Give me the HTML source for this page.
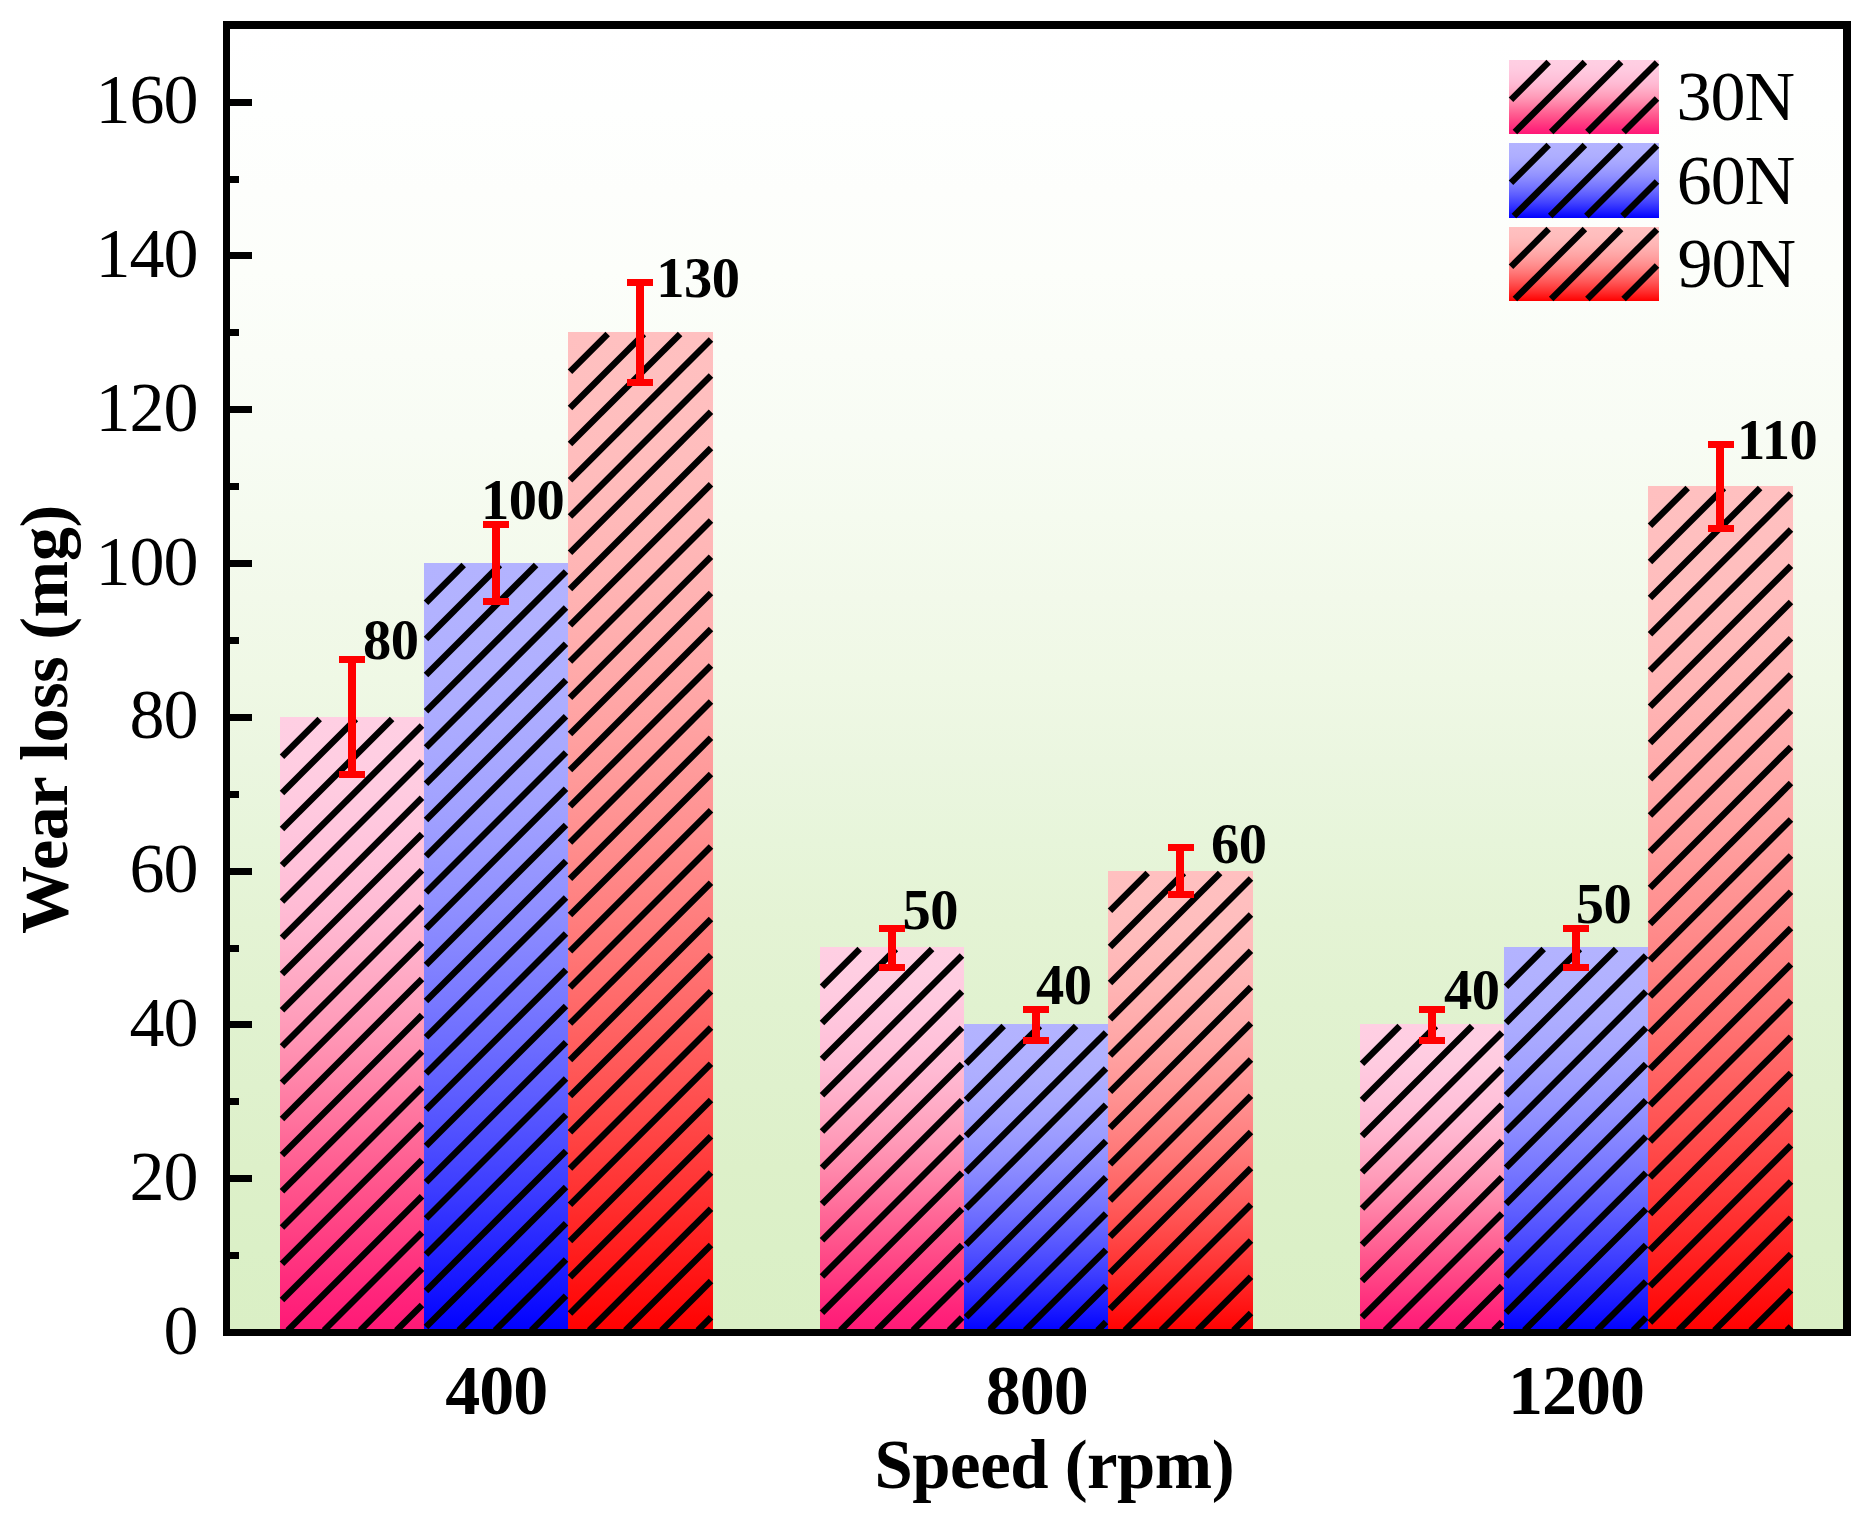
<!DOCTYPE html>
<html lang="en"><head><meta charset="utf-8"><title>Wear loss vs speed</title>
<style>html,body{margin:0;padding:0;background:#fff;}body{width:1871px;height:1519px;overflow:hidden;}svg{display:block;}text{font-family:"Liberation Serif","Times New Roman",serif;fill:#000;}.b{font-weight:bold;}</style></head><body>
<svg width="1871" height="1519" viewBox="0 0 1871 1519">
<defs>
<linearGradient id="bg" x1="0" y1="0" x2="0" y2="1">
<stop offset="0.0000" stop-color="rgb(255,255,255)"/>
<stop offset="0.0625" stop-color="rgb(254,255,254)"/>
<stop offset="0.1250" stop-color="rgb(253,254,252)"/>
<stop offset="0.1875" stop-color="rgb(252,254,250)"/>
<stop offset="0.2500" stop-color="rgb(250,253,247)"/>
<stop offset="0.3125" stop-color="rgb(248,252,244)"/>
<stop offset="0.3750" stop-color="rgb(245,251,239)"/>
<stop offset="0.4375" stop-color="rgb(242,249,234)"/>
<stop offset="0.5000" stop-color="rgb(239,248,229)"/>
<stop offset="0.5625" stop-color="rgb(235,246,224)"/>
<stop offset="0.6250" stop-color="rgb(231,245,218)"/>
<stop offset="0.6875" stop-color="rgb(228,243,212)"/>
<stop offset="0.7500" stop-color="rgb(225,242,208)"/>
<stop offset="0.8125" stop-color="rgb(223,241,205)"/>
<stop offset="0.8750" stop-color="rgb(221,240,201)"/>
<stop offset="0.9375" stop-color="rgb(219,240,199)"/>
<stop offset="1.0000" stop-color="rgb(218,239,197)"/>
</linearGradient>
<linearGradient id="g0" x1="0" y1="0" x2="0" y2="1">
<stop offset="0.0000" stop-color="rgb(255,207,227)"/>
<stop offset="0.0625" stop-color="rgb(255,206,226)"/>
<stop offset="0.1250" stop-color="rgb(255,203,224)"/>
<stop offset="0.1875" stop-color="rgb(255,198,221)"/>
<stop offset="0.2500" stop-color="rgb(255,193,217)"/>
<stop offset="0.3125" stop-color="rgb(255,187,212)"/>
<stop offset="0.3750" stop-color="rgb(255,178,204)"/>
<stop offset="0.4375" stop-color="rgb(255,167,194)"/>
<stop offset="0.5000" stop-color="rgb(255,155,185)"/>
<stop offset="0.5625" stop-color="rgb(255,140,174)"/>
<stop offset="0.6250" stop-color="rgb(255,123,163)"/>
<stop offset="0.6875" stop-color="rgb(255,105,152)"/>
<stop offset="0.7500" stop-color="rgb(255,88,142)"/>
<stop offset="0.8125" stop-color="rgb(255,71,134)"/>
<stop offset="0.8750" stop-color="rgb(255,54,128)"/>
<stop offset="0.9375" stop-color="rgb(255,37,123)"/>
<stop offset="1.0000" stop-color="rgb(255,24,118)"/>
</linearGradient>
<linearGradient id="g1" x1="0" y1="0" x2="0" y2="1">
<stop offset="0.0000" stop-color="rgb(179,179,255)"/>
<stop offset="0.0625" stop-color="rgb(178,178,255)"/>
<stop offset="0.1250" stop-color="rgb(176,176,255)"/>
<stop offset="0.1875" stop-color="rgb(173,173,255)"/>
<stop offset="0.2500" stop-color="rgb(168,168,255)"/>
<stop offset="0.3125" stop-color="rgb(162,162,255)"/>
<stop offset="0.3750" stop-color="rgb(154,154,255)"/>
<stop offset="0.4375" stop-color="rgb(145,145,255)"/>
<stop offset="0.5000" stop-color="rgb(134,134,255)"/>
<stop offset="0.5625" stop-color="rgb(122,122,255)"/>
<stop offset="0.6250" stop-color="rgb(109,109,255)"/>
<stop offset="0.6875" stop-color="rgb(94,94,255)"/>
<stop offset="0.7500" stop-color="rgb(78,78,255)"/>
<stop offset="0.8125" stop-color="rgb(61,61,255)"/>
<stop offset="0.8750" stop-color="rgb(42,42,255)"/>
<stop offset="0.9375" stop-color="rgb(22,22,255)"/>
<stop offset="1.0000" stop-color="rgb(0,0,255)"/>
</linearGradient>
<linearGradient id="g2" x1="0" y1="0" x2="0" y2="1">
<stop offset="0.0000" stop-color="rgb(255,192,192)"/>
<stop offset="0.0625" stop-color="rgb(255,191,191)"/>
<stop offset="0.1250" stop-color="rgb(255,189,189)"/>
<stop offset="0.1875" stop-color="rgb(255,185,185)"/>
<stop offset="0.2500" stop-color="rgb(255,180,180)"/>
<stop offset="0.3125" stop-color="rgb(255,173,173)"/>
<stop offset="0.3750" stop-color="rgb(255,165,165)"/>
<stop offset="0.4375" stop-color="rgb(255,155,155)"/>
<stop offset="0.5000" stop-color="rgb(255,144,144)"/>
<stop offset="0.5625" stop-color="rgb(255,131,131)"/>
<stop offset="0.6250" stop-color="rgb(255,117,117)"/>
<stop offset="0.6875" stop-color="rgb(255,101,101)"/>
<stop offset="0.7500" stop-color="rgb(255,84,84)"/>
<stop offset="0.8125" stop-color="rgb(255,65,65)"/>
<stop offset="0.8750" stop-color="rgb(255,45,45)"/>
<stop offset="0.9375" stop-color="rgb(255,23,23)"/>
<stop offset="1.0000" stop-color="rgb(255,0,0)"/>
</linearGradient>
</defs>
<rect x="0" y="0" width="1871" height="1519" fill="#fff"/>
<rect x="229" y="28" width="1615" height="1302" fill="url(#bg)"/>
<rect x="280.0" y="717.0" width="144.0" height="615.5" fill="url(#g0)"/>
<rect x="424.0" y="563.0" width="144.0" height="769.5" fill="url(#g1)"/>
<rect x="568.0" y="332.0" width="145.0" height="1000.5" fill="url(#g2)"/>
<rect x="820.0" y="947.0" width="144.0" height="385.5" fill="url(#g0)"/>
<rect x="964.0" y="1024.0" width="144.0" height="308.5" fill="url(#g1)"/>
<rect x="1108.0" y="871.0" width="145.0" height="461.5" fill="url(#g2)"/>
<rect x="1360.0" y="1024.0" width="144.0" height="308.5" fill="url(#g0)"/>
<rect x="1504.0" y="947.0" width="144.0" height="385.5" fill="url(#g1)"/>
<rect x="1648.0" y="486.0" width="145.0" height="846.5" fill="url(#g2)"/>
<rect x="1509" y="60" width="150" height="74" fill="url(#g0)"/>
<rect x="1509" y="143" width="150" height="75" fill="url(#g1)"/>
<rect x="1509" y="227" width="150" height="74" fill="url(#g2)"/>
<g stroke="#000" stroke-width="6.4" stroke-linecap="butt">
<line x1="282.0" y1="756.7" x2="319.7" y2="719.0"/>
<line x1="282.0" y1="792.9" x2="355.9" y2="719.0"/>
<line x1="282.0" y1="829.1" x2="392.1" y2="719.0"/>
<line x1="282.0" y1="865.3" x2="422.0" y2="725.4"/>
<line x1="282.0" y1="901.6" x2="422.0" y2="761.6"/>
<line x1="282.0" y1="937.8" x2="422.0" y2="797.8"/>
<line x1="282.0" y1="974.0" x2="422.0" y2="834.0"/>
<line x1="282.0" y1="1010.2" x2="422.0" y2="870.3"/>
<line x1="282.0" y1="1046.4" x2="422.0" y2="906.5"/>
<line x1="282.0" y1="1082.7" x2="422.0" y2="942.7"/>
<line x1="282.0" y1="1118.9" x2="422.0" y2="978.9"/>
<line x1="282.0" y1="1155.1" x2="422.0" y2="1015.1"/>
<line x1="282.0" y1="1191.3" x2="422.0" y2="1051.4"/>
<line x1="282.0" y1="1227.5" x2="422.0" y2="1087.6"/>
<line x1="282.0" y1="1263.8" x2="422.0" y2="1123.8"/>
<line x1="282.0" y1="1300.0" x2="422.0" y2="1160.0"/>
<line x1="287.7" y1="1330.5" x2="422.0" y2="1196.2"/>
<line x1="324.0" y1="1330.5" x2="422.0" y2="1232.5"/>
<line x1="360.2" y1="1330.5" x2="422.0" y2="1268.7"/>
<line x1="396.4" y1="1330.5" x2="422.0" y2="1304.9"/>
<line x1="426.0" y1="602.7" x2="463.7" y2="565.0"/>
<line x1="426.0" y1="638.9" x2="499.9" y2="565.0"/>
<line x1="426.0" y1="675.1" x2="536.1" y2="565.0"/>
<line x1="426.0" y1="711.3" x2="566.0" y2="571.4"/>
<line x1="426.0" y1="747.6" x2="566.0" y2="607.6"/>
<line x1="426.0" y1="783.8" x2="566.0" y2="643.8"/>
<line x1="426.0" y1="820.0" x2="566.0" y2="680.0"/>
<line x1="426.0" y1="856.2" x2="566.0" y2="716.3"/>
<line x1="426.0" y1="892.4" x2="566.0" y2="752.5"/>
<line x1="426.0" y1="928.7" x2="566.0" y2="788.7"/>
<line x1="426.0" y1="964.9" x2="566.0" y2="824.9"/>
<line x1="426.0" y1="1001.1" x2="566.0" y2="861.1"/>
<line x1="426.0" y1="1037.3" x2="566.0" y2="897.4"/>
<line x1="426.0" y1="1073.5" x2="566.0" y2="933.6"/>
<line x1="426.0" y1="1109.8" x2="566.0" y2="969.8"/>
<line x1="426.0" y1="1146.0" x2="566.0" y2="1006.0"/>
<line x1="426.0" y1="1182.2" x2="566.0" y2="1042.2"/>
<line x1="426.0" y1="1218.4" x2="566.0" y2="1078.5"/>
<line x1="426.0" y1="1254.6" x2="566.0" y2="1114.7"/>
<line x1="426.0" y1="1290.9" x2="566.0" y2="1150.9"/>
<line x1="426.0" y1="1327.1" x2="566.0" y2="1187.1"/>
<line x1="458.8" y1="1330.5" x2="566.0" y2="1223.3"/>
<line x1="495.1" y1="1330.5" x2="566.0" y2="1259.6"/>
<line x1="531.3" y1="1330.5" x2="566.0" y2="1295.8"/>
<line x1="570.0" y1="371.7" x2="607.7" y2="334.0"/>
<line x1="570.0" y1="407.9" x2="643.9" y2="334.0"/>
<line x1="570.0" y1="444.1" x2="680.1" y2="334.0"/>
<line x1="570.0" y1="480.3" x2="711.0" y2="339.4"/>
<line x1="570.0" y1="516.6" x2="711.0" y2="375.6"/>
<line x1="570.0" y1="552.8" x2="711.0" y2="411.8"/>
<line x1="570.0" y1="589.0" x2="711.0" y2="448.0"/>
<line x1="570.0" y1="625.2" x2="711.0" y2="484.3"/>
<line x1="570.0" y1="661.4" x2="711.0" y2="520.5"/>
<line x1="570.0" y1="697.7" x2="711.0" y2="556.7"/>
<line x1="570.0" y1="733.9" x2="711.0" y2="592.9"/>
<line x1="570.0" y1="770.1" x2="711.0" y2="629.1"/>
<line x1="570.0" y1="806.3" x2="711.0" y2="665.4"/>
<line x1="570.0" y1="842.5" x2="711.0" y2="701.6"/>
<line x1="570.0" y1="878.8" x2="711.0" y2="737.8"/>
<line x1="570.0" y1="915.0" x2="711.0" y2="774.0"/>
<line x1="570.0" y1="951.2" x2="711.0" y2="810.2"/>
<line x1="570.0" y1="987.4" x2="711.0" y2="846.5"/>
<line x1="570.0" y1="1023.6" x2="711.0" y2="882.7"/>
<line x1="570.0" y1="1059.9" x2="711.0" y2="918.9"/>
<line x1="570.0" y1="1096.1" x2="711.0" y2="955.1"/>
<line x1="570.0" y1="1132.3" x2="711.0" y2="991.3"/>
<line x1="570.0" y1="1168.5" x2="711.0" y2="1027.6"/>
<line x1="570.0" y1="1204.7" x2="711.0" y2="1063.8"/>
<line x1="570.0" y1="1241.0" x2="711.0" y2="1100.0"/>
<line x1="570.0" y1="1277.2" x2="711.0" y2="1136.2"/>
<line x1="570.0" y1="1313.4" x2="711.0" y2="1172.4"/>
<line x1="589.2" y1="1330.5" x2="711.0" y2="1208.7"/>
<line x1="625.4" y1="1330.5" x2="711.0" y2="1244.9"/>
<line x1="661.6" y1="1330.5" x2="711.0" y2="1281.1"/>
<line x1="697.8" y1="1330.5" x2="711.0" y2="1317.3"/>
<line x1="822.0" y1="986.7" x2="859.7" y2="949.0"/>
<line x1="822.0" y1="1022.9" x2="895.9" y2="949.0"/>
<line x1="822.0" y1="1059.1" x2="932.1" y2="949.0"/>
<line x1="822.0" y1="1095.3" x2="962.0" y2="955.4"/>
<line x1="822.0" y1="1131.6" x2="962.0" y2="991.6"/>
<line x1="822.0" y1="1167.8" x2="962.0" y2="1027.8"/>
<line x1="822.0" y1="1204.0" x2="962.0" y2="1064.0"/>
<line x1="822.0" y1="1240.2" x2="962.0" y2="1100.3"/>
<line x1="822.0" y1="1276.4" x2="962.0" y2="1136.5"/>
<line x1="822.0" y1="1312.7" x2="962.0" y2="1172.7"/>
<line x1="840.4" y1="1330.5" x2="962.0" y2="1208.9"/>
<line x1="876.6" y1="1330.5" x2="962.0" y2="1245.1"/>
<line x1="912.9" y1="1330.5" x2="962.0" y2="1281.4"/>
<line x1="949.1" y1="1330.5" x2="962.0" y2="1317.6"/>
<line x1="966.0" y1="1063.7" x2="1003.7" y2="1026.0"/>
<line x1="966.0" y1="1099.9" x2="1039.9" y2="1026.0"/>
<line x1="966.0" y1="1136.1" x2="1076.1" y2="1026.0"/>
<line x1="966.0" y1="1172.3" x2="1106.0" y2="1032.4"/>
<line x1="966.0" y1="1208.6" x2="1106.0" y2="1068.6"/>
<line x1="966.0" y1="1244.8" x2="1106.0" y2="1104.8"/>
<line x1="966.0" y1="1281.0" x2="1106.0" y2="1141.0"/>
<line x1="966.0" y1="1317.2" x2="1106.0" y2="1177.3"/>
<line x1="989.0" y1="1330.5" x2="1106.0" y2="1213.5"/>
<line x1="1025.2" y1="1330.5" x2="1106.0" y2="1249.7"/>
<line x1="1061.4" y1="1330.5" x2="1106.0" y2="1285.9"/>
<line x1="1097.6" y1="1330.5" x2="1106.0" y2="1322.1"/>
<line x1="1110.0" y1="910.7" x2="1147.7" y2="873.0"/>
<line x1="1110.0" y1="946.9" x2="1183.9" y2="873.0"/>
<line x1="1110.0" y1="983.1" x2="1220.1" y2="873.0"/>
<line x1="1110.0" y1="1019.3" x2="1251.0" y2="878.4"/>
<line x1="1110.0" y1="1055.6" x2="1251.0" y2="914.6"/>
<line x1="1110.0" y1="1091.8" x2="1251.0" y2="950.8"/>
<line x1="1110.0" y1="1128.0" x2="1251.0" y2="987.0"/>
<line x1="1110.0" y1="1164.2" x2="1251.0" y2="1023.3"/>
<line x1="1110.0" y1="1200.4" x2="1251.0" y2="1059.5"/>
<line x1="1110.0" y1="1236.7" x2="1251.0" y2="1095.7"/>
<line x1="1110.0" y1="1272.9" x2="1251.0" y2="1131.9"/>
<line x1="1110.0" y1="1309.1" x2="1251.0" y2="1168.1"/>
<line x1="1124.9" y1="1330.5" x2="1251.0" y2="1204.4"/>
<line x1="1161.1" y1="1330.5" x2="1251.0" y2="1240.6"/>
<line x1="1197.3" y1="1330.5" x2="1251.0" y2="1276.8"/>
<line x1="1233.5" y1="1330.5" x2="1251.0" y2="1313.0"/>
<line x1="1362.0" y1="1063.7" x2="1399.7" y2="1026.0"/>
<line x1="1362.0" y1="1099.9" x2="1435.9" y2="1026.0"/>
<line x1="1362.0" y1="1136.1" x2="1472.1" y2="1026.0"/>
<line x1="1362.0" y1="1172.3" x2="1502.0" y2="1032.4"/>
<line x1="1362.0" y1="1208.6" x2="1502.0" y2="1068.6"/>
<line x1="1362.0" y1="1244.8" x2="1502.0" y2="1104.8"/>
<line x1="1362.0" y1="1281.0" x2="1502.0" y2="1141.0"/>
<line x1="1362.0" y1="1317.2" x2="1502.0" y2="1177.3"/>
<line x1="1385.0" y1="1330.5" x2="1502.0" y2="1213.5"/>
<line x1="1421.2" y1="1330.5" x2="1502.0" y2="1249.7"/>
<line x1="1457.4" y1="1330.5" x2="1502.0" y2="1285.9"/>
<line x1="1493.6" y1="1330.5" x2="1502.0" y2="1322.1"/>
<line x1="1506.0" y1="986.7" x2="1543.7" y2="949.0"/>
<line x1="1506.0" y1="1022.9" x2="1579.9" y2="949.0"/>
<line x1="1506.0" y1="1059.1" x2="1616.1" y2="949.0"/>
<line x1="1506.0" y1="1095.3" x2="1646.0" y2="955.4"/>
<line x1="1506.0" y1="1131.6" x2="1646.0" y2="991.6"/>
<line x1="1506.0" y1="1167.8" x2="1646.0" y2="1027.8"/>
<line x1="1506.0" y1="1204.0" x2="1646.0" y2="1064.0"/>
<line x1="1506.0" y1="1240.2" x2="1646.0" y2="1100.3"/>
<line x1="1506.0" y1="1276.4" x2="1646.0" y2="1136.5"/>
<line x1="1506.0" y1="1312.7" x2="1646.0" y2="1172.7"/>
<line x1="1524.4" y1="1330.5" x2="1646.0" y2="1208.9"/>
<line x1="1560.6" y1="1330.5" x2="1646.0" y2="1245.1"/>
<line x1="1596.9" y1="1330.5" x2="1646.0" y2="1281.4"/>
<line x1="1633.1" y1="1330.5" x2="1646.0" y2="1317.6"/>
<line x1="1650.0" y1="525.7" x2="1687.7" y2="488.0"/>
<line x1="1650.0" y1="561.9" x2="1723.9" y2="488.0"/>
<line x1="1650.0" y1="598.1" x2="1760.1" y2="488.0"/>
<line x1="1650.0" y1="634.3" x2="1791.0" y2="493.4"/>
<line x1="1650.0" y1="670.6" x2="1791.0" y2="529.6"/>
<line x1="1650.0" y1="706.8" x2="1791.0" y2="565.8"/>
<line x1="1650.0" y1="743.0" x2="1791.0" y2="602.0"/>
<line x1="1650.0" y1="779.2" x2="1791.0" y2="638.3"/>
<line x1="1650.0" y1="815.4" x2="1791.0" y2="674.5"/>
<line x1="1650.0" y1="851.7" x2="1791.0" y2="710.7"/>
<line x1="1650.0" y1="887.9" x2="1791.0" y2="746.9"/>
<line x1="1650.0" y1="924.1" x2="1791.0" y2="783.1"/>
<line x1="1650.0" y1="960.3" x2="1791.0" y2="819.4"/>
<line x1="1650.0" y1="996.5" x2="1791.0" y2="855.6"/>
<line x1="1650.0" y1="1032.8" x2="1791.0" y2="891.8"/>
<line x1="1650.0" y1="1069.0" x2="1791.0" y2="928.0"/>
<line x1="1650.0" y1="1105.2" x2="1791.0" y2="964.2"/>
<line x1="1650.0" y1="1141.4" x2="1791.0" y2="1000.5"/>
<line x1="1650.0" y1="1177.6" x2="1791.0" y2="1036.7"/>
<line x1="1650.0" y1="1213.9" x2="1791.0" y2="1072.9"/>
<line x1="1650.0" y1="1250.1" x2="1791.0" y2="1109.1"/>
<line x1="1650.0" y1="1286.3" x2="1791.0" y2="1145.3"/>
<line x1="1650.0" y1="1322.5" x2="1791.0" y2="1181.6"/>
<line x1="1678.3" y1="1330.5" x2="1791.0" y2="1217.8"/>
<line x1="1714.5" y1="1330.5" x2="1791.0" y2="1254.0"/>
<line x1="1750.7" y1="1330.5" x2="1791.0" y2="1290.2"/>
<line x1="1786.9" y1="1330.5" x2="1791.0" y2="1326.4"/>
<line x1="1511.0" y1="99.7" x2="1548.7" y2="62.0"/>
<line x1="1514.9" y1="132.0" x2="1584.9" y2="62.0"/>
<line x1="1551.2" y1="132.0" x2="1621.1" y2="62.0"/>
<line x1="1587.4" y1="132.0" x2="1657.0" y2="62.4"/>
<line x1="1623.6" y1="132.0" x2="1657.0" y2="98.6"/>
<line x1="1511.0" y1="182.7" x2="1548.7" y2="145.0"/>
<line x1="1513.9" y1="216.0" x2="1584.9" y2="145.0"/>
<line x1="1550.2" y1="216.0" x2="1621.1" y2="145.0"/>
<line x1="1586.4" y1="216.0" x2="1657.0" y2="145.4"/>
<line x1="1622.6" y1="216.0" x2="1657.0" y2="181.6"/>
<line x1="1511.0" y1="266.7" x2="1548.7" y2="229.0"/>
<line x1="1514.9" y1="299.0" x2="1584.9" y2="229.0"/>
<line x1="1551.2" y1="299.0" x2="1621.1" y2="229.0"/>
<line x1="1587.4" y1="299.0" x2="1657.0" y2="229.4"/>
<line x1="1623.6" y1="299.0" x2="1657.0" y2="265.6"/>
</g>
<g fill="#FF0000">
<rect x="348" y="656" width="8" height="122"/>
<rect x="339" y="656" width="26" height="7"/>
<rect x="339" y="771" width="26" height="7"/>
<rect x="492" y="521" width="8" height="84"/>
<rect x="483" y="521" width="26" height="7"/>
<rect x="483" y="598" width="26" height="7"/>
<rect x="636" y="279" width="8" height="107"/>
<rect x="627" y="279" width="26" height="7"/>
<rect x="627" y="379" width="26" height="7"/>
<rect x="888" y="925" width="8" height="46"/>
<rect x="879" y="925" width="26" height="7"/>
<rect x="879" y="964" width="26" height="7"/>
<rect x="1032" y="1006" width="8" height="38"/>
<rect x="1023" y="1006" width="26" height="7"/>
<rect x="1023" y="1037" width="26" height="7"/>
<rect x="1176" y="844" width="8" height="54"/>
<rect x="1168" y="844" width="26" height="7"/>
<rect x="1168" y="891" width="26" height="7"/>
<rect x="1428" y="1006" width="8" height="38"/>
<rect x="1419" y="1006" width="26" height="7"/>
<rect x="1419" y="1037" width="26" height="7"/>
<rect x="1572" y="925" width="8" height="46"/>
<rect x="1563" y="925" width="26" height="7"/>
<rect x="1563" y="964" width="26" height="7"/>
<rect x="1716" y="441" width="8" height="91"/>
<rect x="1708" y="441" width="26" height="7"/>
<rect x="1708" y="525" width="26" height="7"/>
</g>
<g fill="#000">
<rect x="223" y="21" width="7" height="1315"/>
<rect x="1843" y="21" width="8" height="1315"/>
<rect x="223" y="21" width="1628" height="8"/>
<rect x="223" y="1329" width="1628" height="7"/>
<rect x="229" y="1252" width="10" height="7"/>
<rect x="229" y="1175" width="23" height="7"/>
<rect x="229" y="1098" width="10" height="7"/>
<rect x="229" y="1021" width="23" height="7"/>
<rect x="229" y="945" width="10" height="7"/>
<rect x="229" y="868" width="23" height="7"/>
<rect x="229" y="791" width="10" height="7"/>
<rect x="229" y="714" width="23" height="7"/>
<rect x="229" y="637" width="10" height="7"/>
<rect x="229" y="560" width="23" height="7"/>
<rect x="229" y="483" width="10" height="7"/>
<rect x="229" y="406" width="23" height="7"/>
<rect x="229" y="329" width="10" height="7"/>
<rect x="229" y="252" width="23" height="7"/>
<rect x="229" y="176" width="10" height="7"/>
<rect x="229" y="99" width="23" height="7"/>
</g>
<g font-size="70" letter-spacing="-1">
<text x="163.5" y="1353.5">0</text>
<text x="129.5" y="1199.7">20</text>
<text x="129.5" y="1045.9">40</text>
<text x="129.5" y="892.1">60</text>
<text x="129.5" y="738.3">80</text>
<text x="95.5" y="584.5">100</text>
<text x="95.5" y="430.7">120</text>
<text x="95.5" y="276.9">140</text>
<text x="95.5" y="123.1">160</text>
<text x="1676.4" y="120.1">30N</text>
<text x="1676.7" y="203.5">60N</text>
<text x="1677.4" y="287.2">90N</text>
</g>
<g class="b" font-size="56.5" letter-spacing="-0.5">
<text x="363.0" y="658.8">80</text>
<text x="480.9" y="518.7">100</text>
<text x="656.2" y="297.0">130</text>
<text x="902.6" y="929.4">50</text>
<text x="1035.9" y="1004.0">40</text>
<text x="1210.9" y="863.3">60</text>
<text x="1444.1" y="1008.8">40</text>
<text x="1575.7" y="923.3">50</text>
<text x="1737.1" y="459.3">110</text>
</g>
<g class="b" font-size="70" letter-spacing="-1">
<text x="445.3" y="1414">400</text>
<text x="985.7" y="1414">800</text>
<text x="1508.0" y="1414">1200</text>
</g>
<g class="b" font-size="68.8" letter-spacing="-0.5">
<text x="874.6" y="1488">Speed (rpm)</text>
<text font-size="68" letter-spacing="-0.3" transform="translate(66.8,933.0) rotate(-90)" x="-1.0" y="0">Wear loss (mg)</text>
</g>
</svg></body></html>
